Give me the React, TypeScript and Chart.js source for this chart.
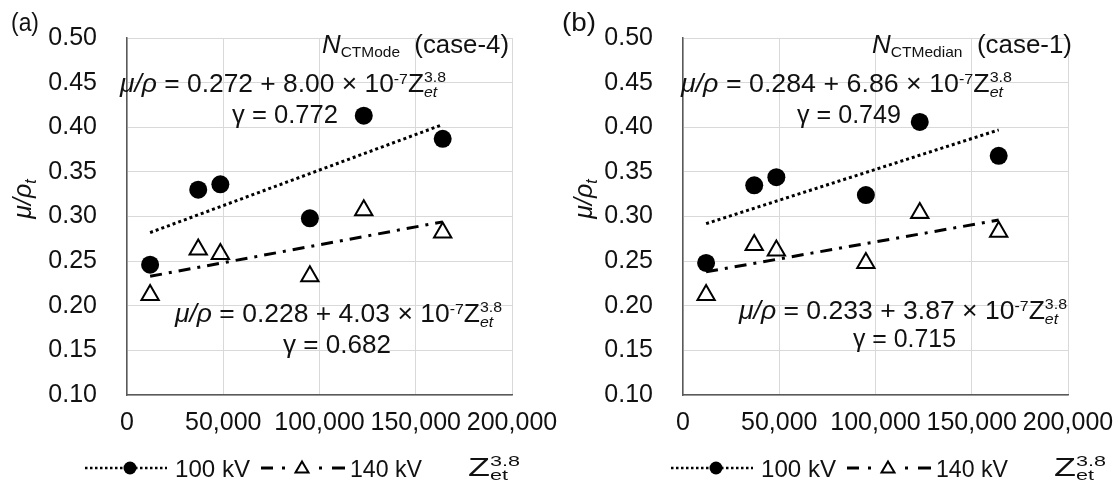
import React, { useEffect, useRef } from 'react';
import { Chart, registerables } from 'chart.js';

Chart.register(...registerables);

const FONT = '"Liberation Sans", Arial, Helvetica, sans-serif';
const TEXT = '#111111';

// ---- data ----
const zet = [12000, 37000, 48500, 95000, 123000, 164000];
const modeKv100 = [0.246, 0.330, 0.336, 0.298, 0.413, 0.387];
const modeKv140 = [0.212, 0.263, 0.258, 0.233, 0.307, 0.282];
const medianKv100 = [0.248, 0.335, 0.344, 0.324, 0.406, 0.368];
const medianKv140 = [0.212, 0.268, 0.262, 0.248, 0.304, 0.283];
const trendX = [12000, 164000];
const modeTrend100 = [0.282, 0.403];
const modeTrend140 = [0.233, 0.294];
const medianTrend100 = [0.292, 0.397];
const medianTrend140 = [0.238, 0.296];
const xTicks = [0, 50000, 100000, 150000, 200000];
const yTicks = [0.10, 0.15, 0.20, 0.25, 0.30, 0.35, 0.40, 0.45, 0.50];
const seriesLabels = ['100 kV', '140 kV'];
const panelLetters = ['(a)', '(b)'];
const caseSubs = ['CTMode', 'CTMedian'];
const caseTags = ['(case-4)', '(case-1)'];
const fitA100 = ['0.272', '0.284'];
const fitB100 = ['8.00', '6.86'];
const gamma100 = ['0.772', '0.749'];
const fitA140 = ['0.228', '0.233'];
const fitB140 = ['4.03', '3.87'];
const gamma140 = ['0.682', '0.715'];

// ---- layout (pixels within each 559x484 canvas) ----
const layouts = [
  {
    left: 0, axisW: 127, padR: 47, yLabelX: 23, letter: [11, 39],
    title: [322, 509], eq1: [120, 446, 92], g1: [232, 338, 123],
    eq2: [175, 502, 322], g2: [283, 391, 353], legendX: 85,
  },
  {
    left: 559, axisW: 124, padR: 50, yLabelX: 25, letter: [3, 37],
    title: [313, 513], eq1: [122, 453, 92], g1: [238, 342, 123],
    eq2: [180, 508, 319], g2: [294, 397, 347], legendX: 112,
  },
];

type Seg = { t: string; s?: number; i?: boolean; dy?: number; stack?: boolean };

function fnt(size: number, italic?: boolean) {
  return `${italic ? 'italic ' : ''}${size}px ${FONT}`;
}

function drawRich(
  ctx: CanvasRenderingContext2D, segs: Seg[], x0: number, baseline: number,
  x1?: number, base = 25, center = false,
) {
  const placed: { seg: Seg; x: number }[] = [];
  let w = 0;
  let lastStart = 0;
  for (const seg of segs) {
    ctx.font = fnt(seg.s ?? base, seg.i);
    const sw = ctx.measureText(seg.t).width;
    if (seg.stack) {
      placed.push({ seg, x: lastStart });
      w = Math.max(w, lastStart + sw);
    } else {
      placed.push({ seg, x: w });
      lastStart = w;
      w += sw;
    }
  }
  let k = 1;
  let ox = x0;
  if (x1 !== undefined) k = (x1 - x0) / w;
  else if (center) ox = x0 - w / 2;
  ctx.save();
  ctx.translate(ox, baseline);
  ctx.scale(k, 1);
  ctx.fillStyle = TEXT;
  ctx.textBaseline = 'alphabetic';
  ctx.textAlign = 'left';
  for (const p of placed) {
    ctx.font = fnt(p.seg.s ?? base, p.seg.i);
    ctx.fillText(p.seg.t, p.x, p.seg.dy ?? 0);
  }
  ctx.restore();
}

function eqSegs(a: string, b: string): Seg[] {
  return [
    { t: 'μ/ρ', i: true },
    { t: ` = ${a} + ${b} × 10` },
    { t: '-7', s: 15, dy: -8 },
    { t: 'Z' },
    { t: 'et', s: 15, i: true, dy: 5 },
    { t: '3.8', s: 15, dy: -10, stack: true },
  ];
}

function drawLegend(ctx: CanvasRenderingContext2D, bx: number) {
  const ly = 468;
  ctx.save();
  ctx.strokeStyle = '#000';
  ctx.fillStyle = '#000';
  // dotted + circle
  ctx.lineWidth = 2.5;
  ctx.setLineDash([2.5, 2.5]);
  ctx.beginPath();
  ctx.moveTo(bx, ly);
  ctx.lineTo(bx + 82, ly);
  ctx.stroke();
  ctx.setLineDash([]);
  ctx.beginPath();
  ctx.arc(bx + 45, ly, 6.5, 0, Math.PI * 2);
  ctx.fill();
  // dash-dot + triangle
  ctx.lineWidth = 3;
  const seg = (a: number, b: number) => {
    ctx.beginPath();
    ctx.moveTo(bx + a, ly);
    ctx.lineTo(bx + b, ly);
    ctx.stroke();
  };
  seg(176, 188);
  seg(197, 200);
  seg(234, 237);
  seg(247, 260);
  ctx.lineWidth = 2;
  const tx = bx + 217;
  ctx.beginPath();
  ctx.moveTo(tx, ly - 6.5);
  ctx.lineTo(tx + 6.5, ly + 4.5);
  ctx.lineTo(tx - 6.5, ly + 4.5);
  ctx.closePath();
  ctx.fillStyle = '#fff';
  ctx.fill();
  ctx.stroke();
  ctx.restore();
  drawRich(ctx, [{ t: seriesLabels[0] }], bx + 90, 477, bx + 165, 24);
  drawRich(ctx, [{ t: seriesLabels[1] }], bx + 265, 477, bx + 337, 24);
  drawRich(
    ctx,
    [{ t: 'Z' }, { t: 'et', s: 15, dy: 4 }, { t: '3.8', s: 15, dy: -10, stack: true }],
    bx + 383, 476, bx + 435, 25,
  );
}

function Panel({ idx }: { idx: number }) {
  const ref = useRef<HTMLCanvasElement>(null);
  useEffect(() => {
    const L = layouts[idx];
    const k100 = idx === 0 ? modeKv100 : medianKv100;
    const k140 = idx === 0 ? modeKv140 : medianKv140;
    const t100 = idx === 0 ? modeTrend100 : medianTrend100;
    const t140 = idx === 0 ? modeTrend140 : medianTrend140;
    const tickFont = { size: 25, family: FONT };
    const annot = {
      id: 'annot',
      afterDraw(c: any) {
        const ctx: CanvasRenderingContext2D = c.ctx;
        drawRich(ctx, [{ t: panelLetters[idx] }], L.letter[0], 31, L.letter[1], 26);
        drawRich(
          ctx,
          [{ t: 'N', i: true }, { t: caseSubs[idx], s: 15, dy: 4 }, { t: '  ' + caseTags[idx] }],
          L.title[0], 53, L.title[1], 25,
        );
        drawRich(ctx, eqSegs(fitA100[idx], fitB100[idx]), L.eq1[0], L.eq1[2], L.eq1[1], 25);
        drawRich(ctx, [{ t: `γ = ${gamma100[idx]}` }], L.g1[0], L.g1[2], L.g1[1], 25);
        drawRich(ctx, eqSegs(fitA140[idx], fitB140[idx]), L.eq2[0], L.eq2[2], L.eq2[1], 25);
        drawRich(ctx, [{ t: `γ = ${gamma140[idx]}` }], L.g2[0], L.g2[2], L.g2[1], 25);
        ctx.save();
        ctx.translate(L.yLabelX, 199);
        ctx.rotate(-Math.PI / 2);
        drawRich(ctx, [{ t: 'μ/ρ', i: true }, { t: 't', s: 16, i: true, dy: 5 }], 0, 8, undefined, 25, true);
        ctx.restore();
        drawLegend(ctx, L.legendX);
      },
    };
    const chart = new Chart(ref.current as HTMLCanvasElement, {
      type: 'scatter',
      data: {
        datasets: [
          {
            label: seriesLabels[0],
            data: zet.map((x, i) => ({ x, y: k100[i] })),
            pointStyle: 'circle',
            pointRadius: 9,
            pointHoverRadius: 9,
            backgroundColor: '#000',
            borderColor: '#000',
            borderWidth: 0,
            order: 1,
          },
          {
            label: seriesLabels[1],
            data: zet.map((x, i) => ({ x, y: k140[i] })),
            pointStyle: 'triangle',
            pointRadius: 10,
            pointHoverRadius: 10,
            backgroundColor: 'rgba(255,255,255,0)',
            borderColor: '#000',
            borderWidth: 2,
            order: 1,
          },
          {
            label: 'trend ' + seriesLabels[0],
            data: trendX.map((x, i) => ({ x, y: t100[i] })),
            showLine: true,
            pointRadius: 0,
            borderColor: '#000',
            borderWidth: 3,
            borderDash: [3, 3],
            order: 0,
          },
          {
            label: 'trend ' + seriesLabels[1],
            data: trendX.map((x, i) => ({ x, y: t140[i] })),
            showLine: true,
            pointRadius: 0,
            borderColor: '#000',
            borderWidth: 3,
            borderDash: [12, 7, 3, 7],
            order: 0,
          },
        ],
      } as any,
      options: {
        responsive: false,
        animation: false,
        events: [],
        layout: { padding: { top: 38, right: L.padR, left: 0, bottom: 0 } },
        plugins: {
          legend: { display: false },
          tooltip: { enabled: false },
          title: { display: false },
        },
        scales: {
          x: {
            type: 'linear',
            min: 0,
            max: 200000,
            afterBuildTicks: (s: any) => {
              s.ticks = xTicks.map((v) => ({ value: v }));
            },
            afterFit: (s: any) => {
              s.height = 89;
              s.paddingLeft = 0;
              s.paddingRight = 0;
            },
            ticks: {
              font: tickFont,
              color: TEXT,
              padding: 13,
              maxRotation: 0,
              autoSkip: false,
              callback: (v: any) => String(v).replace(/\B(?=(\d{3})+(?!\d))/g, ','),
            },
            grid: { color: '#d9d9d9', lineWidth: 1, drawTicks: false },
            border: { color: '#595959', width: 1.5 },
          },
          y: {
            type: 'linear',
            min: 0.1,
            max: 0.5,
            afterBuildTicks: (s: any) => {
              s.ticks = yTicks.map((v) => ({ value: v }));
            },
            afterFit: (s: any) => {
              s.width = L.axisW;
              s.paddingTop = 0;
              s.paddingBottom = 0;
            },
            ticks: {
              font: tickFont,
              color: TEXT,
              padding: 30,
              callback: (v: any) => Number(v).toFixed(2),
            },
            grid: { color: '#d9d9d9', lineWidth: 1, drawTicks: false },
            border: { color: '#595959', width: 1.5 },
          },
        },
      } as any,
      plugins: [annot as any],
    });
    return () => chart.destroy();
  }, [idx]);
  const L = layouts[idx];
  return (
    <canvas
      ref={ref}
      width={559}
      height={484}
      style={{ position: 'absolute', left: L.left, top: 0, width: 559, height: 484 }}
    />
  );
}

export default function App() {
  return (
    <div style={{ position: 'fixed', left: 0, top: 0, width: 1118, height: 484, background: '#fff' }}>
      <Panel idx={0} />
      <Panel idx={1} />
    </div>
  );
}
